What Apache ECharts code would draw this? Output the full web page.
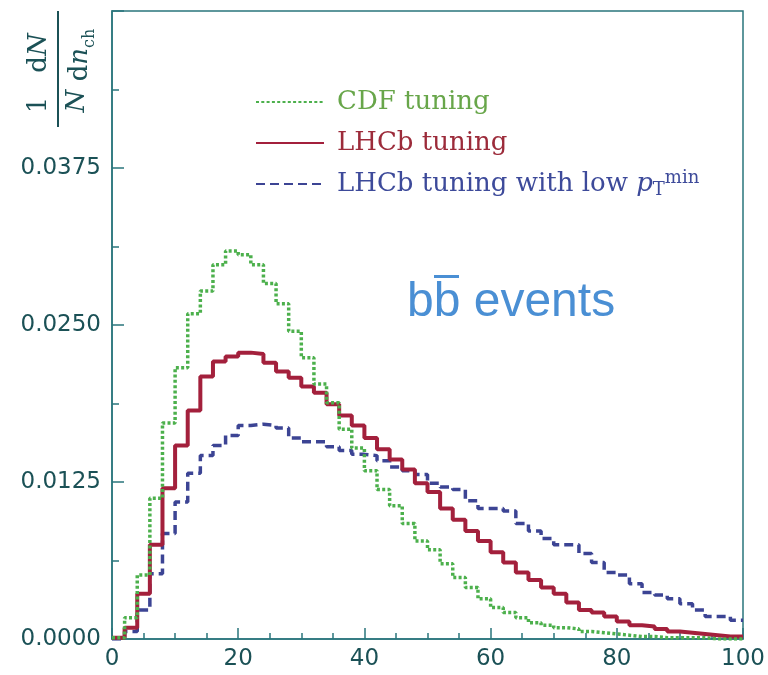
<!DOCTYPE html>
<html><head><meta charset="utf-8">
<script src="https://cdn.jsdelivr.net/npm/echarts@6/dist/echarts.min.js"></script>
<style>html,body{margin:0;padding:0;background:#fff}#c{width:768px;height:675px}</style>
</head><body><div id="c"></div>
<script>
// Bin edges of n_ch (bin width 2)
const binEdges = [0,2,4,6,8,10,12,14,16,18,20,22,24,26,28,30,32,34,36,38,40,42,44,46,48,50,
  52,54,56,58,60,62,64,66,68,70,72,74,76,78,80,82,84,86,88,90,92,94,96,98,100];

// 1/N dN/dn_ch per bin
const cdfTuning = [0.0001,0.0017,0.0051,0.0112,0.0172,0.0216,0.0259,0.0277,0.0298,0.0309,
  0.0306,0.0298,0.0283,0.0267,0.0245,0.0224,0.0203,0.0188,0.0167,0.0152,
  0.0134,0.0119,0.0106,0.0092,0.0078,0.0071,0.0060,0.0049,0.0041,0.0032,
  0.0025,0.0021,0.0017,0.0013,0.0011,0.0009,0.0008,0.0006,0.0005,0.0004,
  0.0003,0.0002,0.0002,0.0001,0.0001,0.0001,0.0001,0.0000,0.0000,0.0000];

const lhcbTuning = [0.0001,0.0009,0.0036,0.0075,0.0120,0.0154,0.0182,0.0209,0.0221,0.0225,
  0.0228,0.0227,0.0220,0.0213,0.0208,0.0201,0.0196,0.0187,0.0178,0.0170,
  0.0160,0.0151,0.0143,0.0135,0.0124,0.0117,0.0104,0.0095,0.0086,0.0078,
  0.0069,0.0061,0.0053,0.0047,0.0041,0.0036,0.0029,0.0023,0.0021,0.0018,
  0.0014,0.0011,0.0010,0.0008,0.0006,0.0005,0.0004,0.0003,0.0002,0.0002];

const lhcbLowPt = [0.0000,0.0006,0.0023,0.0052,0.0084,0.0109,0.0132,0.0146,0.0154,0.0162,
  0.0170,0.0171,0.0170,0.0168,0.0160,0.0157,0.0157,0.0153,0.0150,0.0147,
  0.0146,0.0142,0.0137,0.0134,0.0131,0.0124,0.0121,0.0119,0.0110,0.0104,
  0.0104,0.0102,0.0092,0.0086,0.0080,0.0075,0.0075,0.0068,0.0061,0.0053,
  0.0051,0.0044,0.0037,0.0035,0.0032,0.0028,0.0023,0.0018,0.0018,0.0015];

const seriesNames = ['CDF tuning', 'LHCb tuning', 'LHCb tuning with low pTmin'];
const xTickLabels = ['0','20','40','60','80','100'];
const yTickLabels = ['0.0000','0.0125','0.0250','0.0375'];

const axisColor = '#2a767c';
const labelColor = '#1b5156';
const cGreen = '#4cb04c', cRed = '#a3203c', cBlue = '#3c4494';
const legBlue = '#3d4a9a';

function hist(vals) {
  const d = vals.map((v, i) => [binEdges[i], v]);
  d.push([binEdges[vals.length], vals[vals.length - 1]]);
  return d;
}

const chart = echarts.init(document.getElementById('c'), null, {renderer: 'canvas'});
const tickStyle = {color: axisColor, width: 1.5};
const serif = 'DejaVu Serif';
const option = {
  animation: false,
  backgroundColor: '#fff',
  grid: {left: 112, right: 25, top: 11, bottom: 36, show: true, borderColor: axisColor, borderWidth: 1.5},
  xAxis: {
    type: 'value', min: 0, max: 100, interval: 20,
    axisLine: {show: true, lineStyle: tickStyle},
    axisTick: {show: true, inside: true, length: 11, lineStyle: tickStyle},
    minorTick: {show: true, splitNumber: 4, length: 6, lineStyle: tickStyle},
    splitLine: {show: false},
    axisLabel: {fontFamily: 'DejaVu Sans', fontSize: 23, color: labelColor, margin: 9,
      formatter: v => xTickLabels[Math.round(v / 20)] ?? ''}
  },
  yAxis: {
    type: 'value', min: 0, max: 0.05, interval: 0.0125,
    axisLine: {show: true, lineStyle: tickStyle},
    axisTick: {show: true, inside: true, length: 12, lineStyle: tickStyle},
    minorTick: {show: true, splitNumber: 2, length: 7, lineStyle: tickStyle},
    splitLine: {show: false},
    axisLabel: {fontFamily: 'DejaVu Sans', fontSize: 23, color: labelColor, margin: 11,
      formatter: v => yTickLabels[Math.round(v / 0.0125)] ?? ''}
  },
  legend: {
    orient: 'vertical', left: 250, top: 82, itemWidth: 68, itemHeight: 14, itemGap: 11,
    itemStyle: {opacity: 0},
    textStyle: {fontFamily: serif, fontSize: 26, lineHeight: 30, padding: [0,0,0,8],
      rich: {
        n: {fontFamily: serif, fontSize: 26, lineHeight: 30, color: legBlue},
        i: {fontFamily: serif, fontStyle: 'italic', fontSize: 26, lineHeight: 30, color: legBlue},
        sub: {fontFamily: serif, fontSize: 18, lineHeight: 14, color: legBlue, verticalAlign: 'bottom'},
        sup: {fontFamily: serif, fontSize: 18, lineHeight: 12, color: legBlue, verticalAlign: 'top'}
      }},
    formatter: name => name === seriesNames[2] ? '{n|LHCb tuning with low }{i|p}{sub|T}{sup|min}' : name,
    data: [
      {name: seriesNames[0], textStyle: {color: '#68a64a'}},
      {name: seriesNames[1], textStyle: {color: '#9c2b3a'}},
      {name: seriesNames[2], textStyle: {color: legBlue}}
    ]
  },
  series: [
    {name: seriesNames[2], type: 'line', step: 'end', symbol: 'none', showSymbol: false, data: hist(lhcbLowPt),
      lineStyle: {color: cBlue, width: 3.5, type: [9, 5]}, itemStyle: {color: cBlue}, z: 2},
    {name: seriesNames[1], type: 'line', step: 'end', symbol: 'none', showSymbol: false, data: hist(lhcbTuning),
      lineStyle: {color: cRed, width: 4, type: 'solid'}, itemStyle: {color: cRed}, z: 3},
    {name: seriesNames[0], type: 'line', step: 'end', symbol: 'none', showSymbol: false, data: hist(cdfTuning),
      lineStyle: {color: cGreen, width: 3.5, type: [3, 2.3]}, itemStyle: {color: cGreen}, z: 4}
  ],
  graphic: [
    {type: 'group', x: 58, y: 127, rotation: Math.PI / 2, children: [
      {type: 'line', shape: {x1: 0, y1: 0, x2: 116, y2: 0}, style: {stroke: labelColor, lineWidth: 2}},
      {type: 'text', x: 22, y: -19, style: {text: '1', font: '26px "DejaVu Serif"', fill: labelColor, align: 'center', verticalAlign: 'middle'}},
      {type: 'text', x: 26, y: 19, style: {text: 'N', font: 'italic 26px "DejaVu Serif"', fill: labelColor, align: 'center', verticalAlign: 'middle'}},
      {type: 'text', x: 74, y: -19, style: {text: '{r|d}{i|N}', fill: labelColor, align: 'center', verticalAlign: 'middle',
        rich: {r: {fontFamily: serif, fontSize: 26, color: labelColor}, i: {fontFamily: serif, fontStyle: 'italic', fontSize: 26, color: labelColor}}}},
      {type: 'text', x: 72, y: 20, style: {text: '{r|d}{i|n}{s|ch}', fill: labelColor, align: 'center', verticalAlign: 'middle',
        rich: {r: {fontFamily: serif, fontSize: 26, color: labelColor, lineHeight: 30, verticalAlign: 'bottom'},
               i: {fontFamily: serif, fontStyle: 'italic', fontSize: 26, color: labelColor, lineHeight: 30, verticalAlign: 'bottom'},
               s: {fontFamily: serif, fontSize: 16, color: labelColor, lineHeight: 30, verticalAlign: 'bottom', padding: [0,0,-5,0]}}}}
    ]},
    {type: 'text', x: 407, y: 303, style: {text: 'bb events', font: '48px "Liberation Sans"', fill: '#4a8fd4', verticalAlign: 'middle'}},
    {type: 'rect', shape: {x: 434, y: 275, width: 25, height: 3}, style: {fill: '#4a8fd4'}}
  ]
};
chart.setOption(option);
</script></body></html>
